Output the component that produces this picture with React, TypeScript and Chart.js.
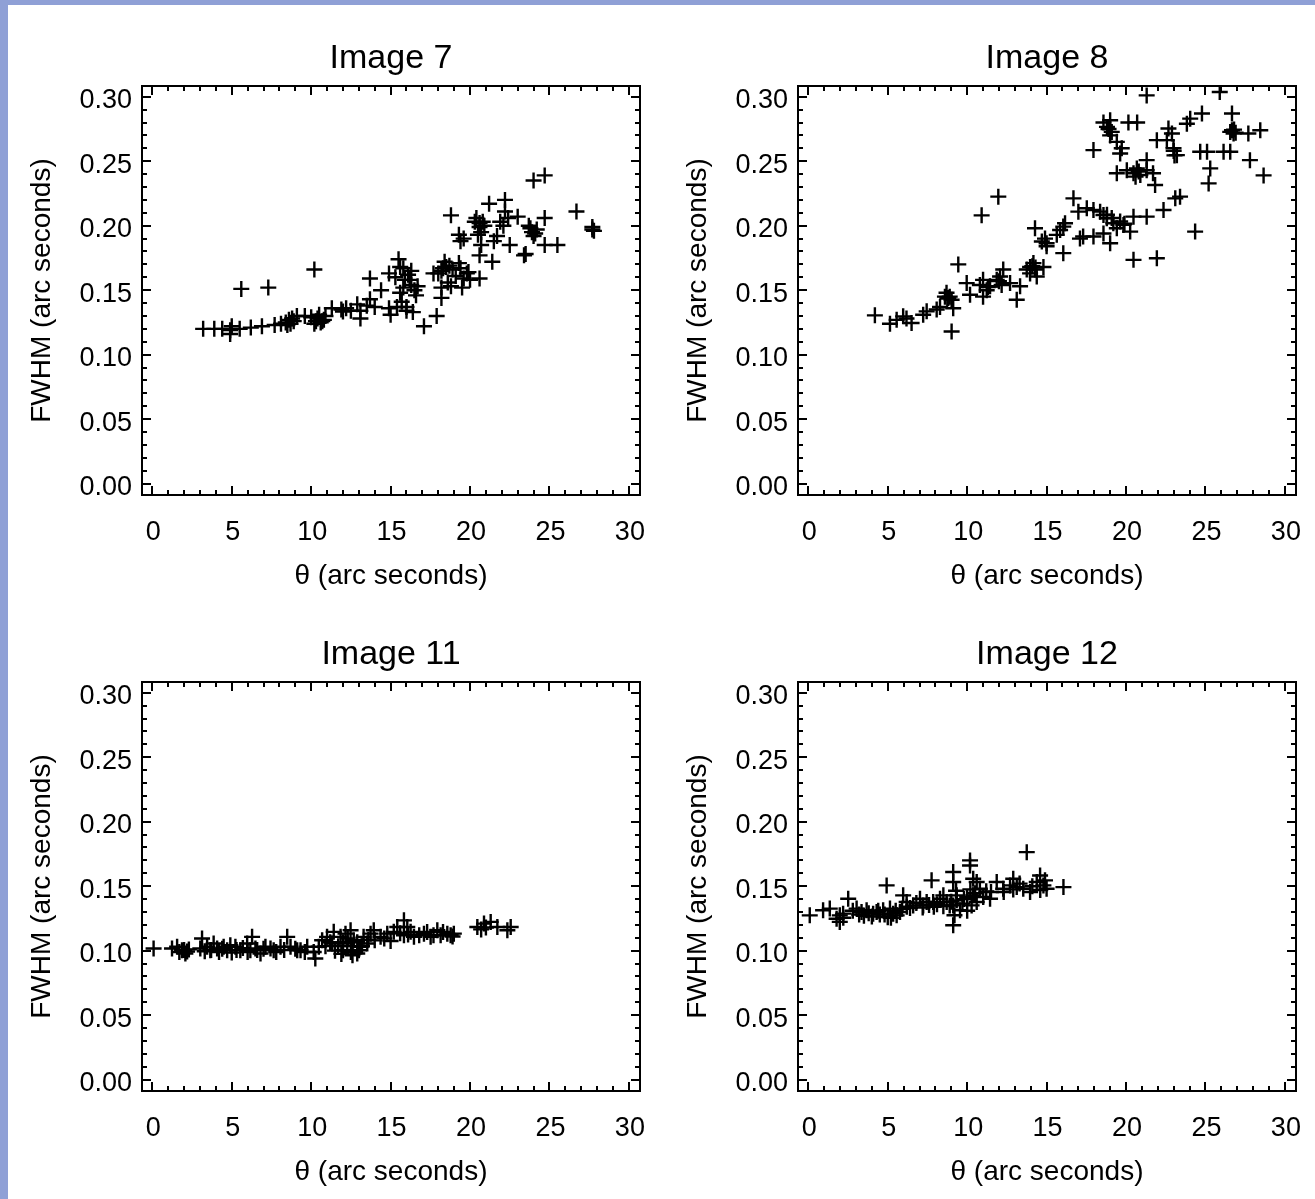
import React, { useEffect, useRef } from 'react';
import { Chart, registerables } from 'chart.js';

Chart.register(...registerables);

// ---------- axes ----------
const X_TICKS = [0, 5, 10, 15, 20, 25, 30];
const Y_TICKS = [0, 0.05, 0.1, 0.15, 0.2, 0.25, 0.3];
const X_MIN = -0.65;
const X_MAX = 30.7;
const Y_MIN = -0.0088;
const Y_MAX = 0.3083;
const X_MINOR_STEP = 1;
const Y_MINOR_STEP = 0.01;
const X_TITLE = 'θ (arc seconds)';
const Y_TITLE = 'FWHM (arc seconds)';

// ---------- data ----------
const image7X = [3.2, 3.9, 4.4, 4.9, 4.9, 5.0, 5.5, 6.2, 6.9, 7.7, 8.1, 8.4, 8.6, 8.7, 8.8, 9.1, 9.6, 10.0, 10.3, 10.4, 10.6, 10.8, 10.2, 10.9, 11.3, 11.9, 12.2, 12.5, 12.9, 13.1, 13.1, 13.5, 13.7, 14.0, 14.4, 13.7, 14.9, 15.5, 15.6, 15.9, 14.9, 15.0, 15.6, 15.4, 16.0, 16.0, 16.3, 15.8, 16.5, 15.8, 16.3, 16.7, 17.1, 17.9, 17.7, 18.2, 18.2, 18.4, 18.6, 18.2, 18.8, 19.3, 19.4, 19.6, 19.5, 19.8, 20.0, 20.6, 5.6, 7.3, 10.2, 18.8, 19.3, 19.4, 20.4, 20.8, 20.9, 20.7, 20.5, 20.7, 20.6, 21.2, 21.5, 21.4, 21.7, 22.2, 22.2, 21.9, 22.1, 22.4, 23.0, 22.5, 23.4, 23.7, 23.9, 24.2, 24.0, 24.7, 24.7, 25.5, 24.0, 24.7, 26.7, 27.7, 27.7, 18.5, 18.9, 16.1, 23.5, 19.6, 20.6, 15.3, 16.2, 16.6, 15.7, 16.4, 18.3, 18.0, 18.7, 19.1, 19.9, 8.9, 8.5, 10.5, 10.7, 20.3, 20.6, 23.8, 24.1, 27.8, 12.0];
const image7Y = [0.120, 0.120, 0.120, 0.119, 0.116, 0.122, 0.120, 0.121, 0.122, 0.123, 0.124, 0.125, 0.127, 0.124, 0.128, 0.130, 0.130, 0.129, 0.126, 0.128, 0.125, 0.127, 0.124, 0.130, 0.136, 0.135, 0.136, 0.134, 0.139, 0.134, 0.128, 0.138, 0.143, 0.137, 0.150, 0.159, 0.163, 0.174, 0.168, 0.158, 0.136, 0.131, 0.148, 0.137, 0.137, 0.134, 0.154, 0.152, 0.150, 0.167, 0.165, 0.153, 0.122, 0.130, 0.163, 0.152, 0.165, 0.172, 0.156, 0.144, 0.153, 0.171, 0.167, 0.159, 0.152, 0.163, 0.158, 0.159, 0.151, 0.152, 0.166, 0.208, 0.193, 0.188, 0.206, 0.203, 0.200, 0.195, 0.193, 0.185, 0.177, 0.217, 0.188, 0.172, 0.192, 0.220, 0.211, 0.203, 0.200, 0.206, 0.207, 0.185, 0.177, 0.200, 0.195, 0.197, 0.192, 0.206, 0.185, 0.185, 0.235, 0.239, 0.211, 0.197, 0.199, 0.168, 0.166, 0.162, 0.178, 0.190, 0.202, 0.160, 0.158, 0.146, 0.141, 0.133, 0.167, 0.163, 0.169, 0.161, 0.164, 0.126, 0.123, 0.131, 0.126, 0.203, 0.199, 0.198, 0.194, 0.196, 0.1335];

const image8X = [4.19, 5.14, 5.56, 5.97, 6.18, 6.5, 7.23, 7.45, 8.08, 8.29, 8.6, 8.81, 9.02, 8.7, 9.12, 9.02, 9.44, 9.97, 10.18, 10.8, 11.0, 11.23, 11.44, 11.0, 11.86, 12.07, 12.27, 12.17, 12.7, 13.12, 13.33, 13.75, 13.96, 14.17, 14.27, 14.38, 13.96, 14.8, 10.91, 11.96, 14.27, 14.7, 14.9, 15.0, 21.3, 25.9, 18.58, 19.0, 18.8, 19.1, 19.0, 20.15, 20.7, 17.95, 19.42, 19.73, 19.63, 19.42, 20.05, 20.47, 20.68, 20.9, 21.3, 21.7, 21.83, 21.3, 16.69, 17.0, 17.53, 17.95, 18.37, 18.58, 18.79, 19.2, 19.63, 19.84, 19.42, 20.47, 21.3, 22.36, 23.1, 23.4, 20.26, 19.0, 18.58, 17.95, 17.1, 17.3, 16.16, 15.85, 16.05, 15.64, 15.0, 16.05, 20.47, 21.94, 24.35, 22.67, 22.89, 22.57, 21.94, 22.99, 23.2, 23.83, 24.04, 24.78, 24.67, 25.1, 25.3, 25.2, 26.14, 26.56, 26.67, 26.67, 26.56, 26.77, 27.7, 28.45, 27.8, 28.66, 20.6, 20.8, 26.8, 26.9, 18.9, 18.8, 19.1, 8.9, 8.75, 14.1, 14.3, 19.9, 12.0, 11.3, 23.0, 23.05];
const image8Y = [0.1305, 0.124, 0.127, 0.1297, 0.128, 0.1246, 0.131, 0.1336, 0.135, 0.137, 0.145, 0.144, 0.1426, 0.148, 0.136, 0.118, 0.170, 0.1555, 0.1465, 0.154, 0.158, 0.150, 0.153, 0.145, 0.158, 0.1606, 0.166, 0.154, 0.1555, 0.1426, 0.153, 0.166, 0.168, 0.171, 0.166, 0.1606, 0.163, 0.168, 0.208, 0.2225, 0.198, 0.1877, 0.190, 0.184, 0.301, 0.3036, 0.280, 0.2818, 0.2766, 0.2727, 0.270, 0.280, 0.280, 0.2586, 0.265, 0.260, 0.256, 0.2406, 0.243, 0.2406, 0.2444, 0.2393, 0.243, 0.2406, 0.2315, 0.2508, 0.2212, 0.2109, 0.2135, 0.2122, 0.2109, 0.2083, 0.2058, 0.2019, 0.2032, 0.2006, 0.198, 0.207, 0.207, 0.2122, 0.2212, 0.2225, 0.1954, 0.1864, 0.194, 0.1916, 0.190, 0.1916, 0.2019, 0.1967, 0.1993, 0.1929, 0.1864, 0.1787, 0.1735, 0.1748, 0.1954, 0.2753, 0.2715, 0.2663, 0.2663, 0.260, 0.2547, 0.279, 0.283, 0.287, 0.2573, 0.2573, 0.2444, 0.2328, 0.2573, 0.2573, 0.287, 0.274, 0.2727, 0.2715, 0.2715, 0.274, 0.2508, 0.239, 0.238, 0.242, 0.2745, 0.272, 0.275, 0.2085, 0.206, 0.145, 0.1435, 0.1685, 0.1675, 0.2015, 0.157, 0.1525, 0.258, 0.2545];

const image11X = [0.08, 1.24, 1.56, 1.87, 2.08, 2.19, 3.13, 3.02, 3.45, 3.65, 3.86, 4.08, 4.49, 4.71, 4.91, 5.23, 5.54, 5.97, 6.17, 6.49, 6.81, 7.12, 7.44, 7.64, 6.28, 8.07, 8.49, 8.7, 9.12, 9.33, 9.75, 10.16, 10.48, 10.26, 10.69, 11.0, 11.32, 11.42, 11.85, 12.16, 12.27, 12.48, 12.68, 12.9, 13.1, 13.3, 13.53, 13.74, 13.94, 14.37, 14.79, 15.2, 15.42, 11.5, 12.0, 12.5, 13.0, 15.84, 16.05, 16.26, 15.84, 16.47, 17.1, 17.52, 17.94, 18.15, 18.57, 18.78, 18.98, 20.46, 20.88, 21.3, 21.72, 22.56, 22.35, 1.7, 2.3, 2.0, 3.3, 3.7, 4.2, 4.4, 5.0, 5.3, 5.7, 6.0, 6.6, 7.0, 7.8, 8.3, 9.0, 9.6, 10.9, 11.2, 11.7, 12.0, 12.3, 12.6, 12.9, 13.2, 13.6, 14.0, 14.6, 15.0, 15.6, 16.1, 16.8, 17.3, 17.7, 18.3, 18.9, 21.0, 20.7, 11.9, 12.6];
const image11Y = [0.1017, 0.1017, 0.103, 0.1003, 0.0978, 0.0993, 0.1094, 0.1017, 0.103, 0.1003, 0.1055, 0.1017, 0.103, 0.1003, 0.1042, 0.103, 0.1003, 0.1055, 0.1003, 0.1017, 0.0978, 0.103, 0.1017, 0.1003, 0.1107, 0.103, 0.1107, 0.103, 0.1003, 0.1003, 0.103, 0.099, 0.103, 0.0939, 0.1081, 0.1107, 0.1055, 0.1146, 0.1107, 0.1132, 0.1055, 0.1158, 0.1081, 0.0978, 0.103, 0.1107, 0.1055, 0.1132, 0.1158, 0.1107, 0.1132, 0.1146, 0.1184, 0.100, 0.1003, 0.099, 0.1003, 0.1235, 0.1184, 0.1146, 0.112, 0.1107, 0.1132, 0.1107, 0.1158, 0.112, 0.1132, 0.112, 0.1132, 0.1184, 0.121, 0.1223, 0.1184, 0.1184, 0.1158, 0.099, 0.101, 0.1005, 0.0995, 0.1005, 0.099, 0.1015, 0.0985, 0.1005, 0.102, 0.099, 0.1005, 0.1015, 0.099, 0.1005, 0.1015, 0.099, 0.1035, 0.1065, 0.1035, 0.1065, 0.1095, 0.1035, 0.1065, 0.1035, 0.1085, 0.108, 0.1095, 0.1075, 0.1135, 0.1125, 0.112, 0.1145, 0.112, 0.1145, 0.111, 0.118, 0.1165, 0.0975, 0.0965];

const image12X = [0.09, 0.93, 1.35, 1.98, 2.19, 1.78, 1.98, 2.51, 3.04, 3.35, 3.67, 4.08, 4.3, 4.71, 5.14, 5.34, 5.56, 5.77, 4.93, 5.97, 6.19, 6.6, 7.03, 7.23, 7.45, 7.76, 7.86, 8.29, 8.5, 8.71, 9.12, 9.12, 9.34, 9.34, 9.12, 9.55, 9.12, 10.18, 10.18, 10.38, 10.6, 10.8, 10.38, 10.28, 10.6, 11.01, 11.44, 11.86, 12.27, 12.7, 12.9, 13.12, 13.53, 13.96, 13.75, 14.38, 14.59, 14.8, 15.0, 16.06, 3.5, 4.5, 5.0, 6.4, 7.9, 8.9, 9.8, 11.2, 2.2, 2.8, 3.2, 3.8, 4.0, 4.4, 4.8, 5.2, 5.5, 5.9, 6.2, 6.8, 7.2, 7.6, 8.1, 8.5, 9.0, 9.3, 9.7, 10.0, 10.2, 10.5, 11.5, 12.3, 12.9, 13.3, 14.1, 14.6, 14.9, 9.2, 10.0];
const image12Y = [0.1274, 0.1313, 0.1326, 0.1274, 0.1287, 0.1248, 0.1223, 0.1403, 0.1326, 0.130, 0.1313, 0.1287, 0.130, 0.1313, 0.1326, 0.1287, 0.1274, 0.130, 0.1506, 0.1429, 0.1377, 0.1351, 0.1403, 0.1351, 0.1377, 0.1545, 0.1377, 0.1403, 0.1429, 0.1377, 0.161, 0.1532, 0.1429, 0.139, 0.1351, 0.1313, 0.1197, 0.170, 0.166, 0.1558, 0.1532, 0.148, 0.1429, 0.1351, 0.1377, 0.1416, 0.1403, 0.1532, 0.148, 0.1506, 0.1558, 0.1493, 0.148, 0.1455, 0.1764, 0.1532, 0.1583, 0.1506, 0.148, 0.1493, 0.127, 0.128, 0.126, 0.133, 0.134, 0.135, 0.140, 0.146, 0.1255, 0.131, 0.128, 0.129, 0.1265, 0.131, 0.128, 0.1255, 0.131, 0.1325, 0.134, 0.137, 0.1335, 0.1355, 0.136, 0.1345, 0.138, 0.1465, 0.1365, 0.1415, 0.1475, 0.1445, 0.1455, 0.1455, 0.1475, 0.152, 0.150, 0.147, 0.1545, 0.1275, 0.131];

const PANELS = [
  { title: 'Image 7', xs: image7X, ys: image7Y, left: 0, top: 0 },
  { title: 'Image 8', xs: image8X, ys: image8Y, left: 656, top: 0 },
  { title: 'Image 11', xs: image11X, ys: image11Y, left: 0, top: 596 },
  { title: 'Image 12', xs: image12X, ys: image12Y, left: 656, top: 596 },
];

const FONT = "'Liberation Sans', Arial, Helvetica, sans-serif";
const CANVAS_W = 680;
const CANVAS_H = 600;
const AREA_LEFT = 142;
const AREA_RIGHT = 640;
const AREA_BOTTOM = 495;

const frameTicks = {
  id: 'frameTicks',
  afterDatasetsDraw(chart: any) {
    const { ctx, chartArea: a } = chart;
    const xs = chart.scales.x;
    const ys = chart.scales.y;
    ctx.save();
    ctx.strokeStyle = '#000';
    ctx.lineWidth = 2;
    ctx.beginPath();
    const nx = Math.round((X_TICKS[X_TICKS.length - 1] - X_TICKS[0]) / X_MINOR_STEP);
    for (let i = 0; i <= nx; i++) {
      const v = X_TICKS[0] + i * X_MINOR_STEP;
      const px = Math.round(xs.getPixelForValue(v));
      const major = X_TICKS.some((t) => Math.abs(t - v) < 1e-9);
      const len = major ? 9 : 5;
      ctx.moveTo(px, a.bottom);
      ctx.lineTo(px, a.bottom - len);
      ctx.moveTo(px, a.top);
      ctx.lineTo(px, a.top + len);
    }
    const ny = Math.round((Y_TICKS[Y_TICKS.length - 1] - Y_TICKS[0]) / Y_MINOR_STEP);
    for (let i = 0; i <= ny; i++) {
      const v = Y_TICKS[0] + i * Y_MINOR_STEP;
      const py = Math.round(ys.getPixelForValue(v));
      const major = Y_TICKS.some((t) => Math.abs(t - v) < 1e-9);
      const len = major ? 9 : 5;
      ctx.moveTo(a.left, py);
      ctx.lineTo(a.left + len, py);
      ctx.moveTo(a.right, py);
      ctx.lineTo(a.right - len, py);
    }
    ctx.stroke();
    ctx.strokeRect(a.left, a.top, a.right - a.left, a.bottom - a.top);
    ctx.restore();
  },
};

function Panel({ title, xs, ys, left, top }: { title: string; xs: number[]; ys: number[]; left: number; top: number }) {
  const ref = useRef<HTMLCanvasElement | null>(null);
  useEffect(() => {
    if (!ref.current) return;
    const data = xs.map((x, i) => ({ x, y: ys[i] }));
    const chart = new Chart(ref.current, {
      type: 'scatter',
      data: {
        datasets: [
          {
            data,
            pointStyle: 'cross',
            pointRadius: 8,
            pointBorderWidth: 2.4,
            borderColor: '#000',
            backgroundColor: '#000',
            pointBorderColor: '#000',
          } as any,
        ],
      },
      options: {
        responsive: false,
        animation: false,
        events: [],
        layout: { padding: { left: 0, right: CANVAS_W - AREA_RIGHT, top: 0, bottom: 0 } },
        plugins: {
          legend: { display: false },
          tooltip: { enabled: false },
          title: {
            display: true,
            fullSize: false,
            text: title,
            color: '#000',
            font: { family: FONT, size: 34, weight: 'normal' },
            padding: { top: 38.6, bottom: 6.6 },
          },
        },
        scales: {
          x: {
            type: 'linear',
            min: X_MIN,
            max: X_MAX,
            grid: { display: false, drawTicks: false },
            border: { display: false },
            afterBuildTicks: (s: any) => {
              s.ticks = X_TICKS.map((v) => ({ value: v }));
            },
            afterFit: (s: any) => {
              s.height = CANVAS_H - AREA_BOTTOM;
            },
            ticks: {
              color: '#000',
              font: { family: FONT, size: 27 },
              padding: 21,
              autoSkip: false,
              maxRotation: 0,
              labelOffset: 1,
              callback: (v: any) => String(v),
            },
            title: {
              display: true,
              text: X_TITLE,
              color: '#000',
              font: { family: FONT, size: 28 },
              padding: { top: 0, bottom: 7.2 },
            },
          },
          y: {
            type: 'linear',
            min: Y_MIN,
            max: Y_MAX,
            grid: { display: false, drawTicks: false },
            border: { display: false },
            afterBuildTicks: (s: any) => {
              s.ticks = Y_TICKS.map((v) => ({ value: v }));
            },
            afterFit: (s: any) => {
              s.width = AREA_LEFT;
            },
            ticks: {
              color: '#000',
              font: { family: FONT, size: 27 },
              padding: 10,
              labelOffset: 4,
              autoSkip: false,
              callback: (v: any) => Number(v).toFixed(2),
            },
            title: {
              display: true,
              text: Y_TITLE,
              color: '#000',
              font: { family: FONT, size: 28 },
              padding: { top: 25.2, bottom: 0 },
            },
          },
        },
      } as any,
      plugins: [frameTicks],
    });
    return () => chart.destroy();
  }, [title, xs, ys]);
  return (
    <canvas
      ref={ref}
      width={CANVAS_W}
      height={CANVAS_H}
      style={{ position: 'absolute', left, top, width: CANVAS_W, height: CANVAS_H, display: 'block', filter: 'blur(0.4px)' }}
    />
  );
}

export default function App() {
  const lavender = 'rgb(143, 160, 214)';
  return (
    <div
      style={{
        position: 'absolute',
        left: 0,
        top: 0,
        width: 1315,
        height: 1199,
        background: '#fff',
        overflow: 'hidden',
      }}
    >
      {PANELS.map((p) => (
        <Panel key={p.title} {...p} />
      ))}
      <div style={{ position: 'absolute', left: 0, top: 0, width: 1315, height: 5, background: lavender }} />
      <div style={{ position: 'absolute', left: 0, top: 0, width: 8, height: 1199, background: lavender }} />
    </div>
  );
}
